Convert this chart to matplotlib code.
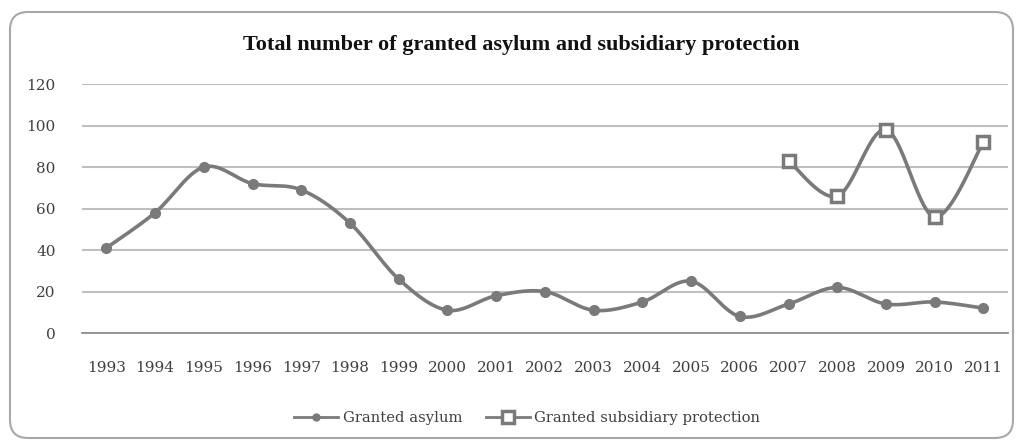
import matplotlib
matplotlib.use("Agg")
import matplotlib.pyplot as plt
import matplotlib.patches as patches
from matplotlib.transforms import IdentityTransform
import numpy as np

years = [str(y) for y in range(1993, 2012)]
asylum = [41, 58, 80, 72, 69, 53, 26, 11, 18, 20, 11, 15, 25, 8, 14, 22, 14, 15, 12]
subsidiary_years = ["2007", "2008", "2009", "2010", "2011"]
subsidiary = [83, 66, 98, 56, 92]

line_color = "#7a7a7a"
text_color = "#404040"


def smooth(xs, ys, n=30):
    # cubic bezier through the points, tangents from neighbours (spreadsheet style)
    xs = np.asarray(xs, float)
    ys = np.asarray(ys, float)
    px = np.concatenate([[xs[0]], xs, [xs[-1]]])
    py = np.concatenate([[ys[0]], ys, [ys[-1]]])
    out_x, out_y = [], []
    t = np.linspace(0, 1, n)
    for i in range(1, len(px) - 2):
        p0 = np.array([px[i], py[i]])
        p3 = np.array([px[i + 1], py[i + 1]])
        p1 = p0 + (p3 - np.array([px[i - 1], py[i - 1]])) / 6
        p2 = p3 - (np.array([px[i + 2], py[i + 2]]) - p0) / 6
        b = ((1 - t) ** 3)[:, None] * p0 + (3 * (1 - t) ** 2 * t)[:, None] * p1 \
            + (3 * (1 - t) * t ** 2)[:, None] * p2 + (t ** 3)[:, None] * p3
        out_x.extend(b[:, 0])
        out_y.extend(b[:, 1])
    return out_x, out_y


fig = plt.figure(figsize=(10.18, 4.40), dpi=100)
ax = fig.add_axes([0.0805, 0.243, 0.9095, 0.566])

x = np.arange(len(years))
xs = np.array([years.index(y) for y in subsidiary_years])

sx, sy = smooth(x, asylum)
ax.plot(sx, sy, color=line_color, lw=2.6, zorder=3)
ax.plot(x, asylum, ls="none", marker="o", ms=7, color=line_color, zorder=4)

tx, ty = smooth(xs, subsidiary)
ax.plot(tx, ty, color=line_color, lw=2.6, zorder=3)
ax.plot(xs, subsidiary, ls="none", marker="s", ms=8, mfc="white",
        mec=line_color, mew=2.5, zorder=4)

# legend handles
h1, = ax.plot([], [], color=line_color, lw=2, marker="o", ms=5)
h2, = ax.plot([], [], color=line_color, lw=2, marker="s", ms=8, mfc="white", mew=2.5)

ax.set_xlim(-0.5, len(years) - 0.5)
ax.set_ylim(0, 120)
ax.set_yticks(np.arange(0, 121, 20))
ax.set_xticks(x)
ax.set_xticklabels(years)
ax.yaxis.grid(True, color="#bfbfbf", lw=1.5)
ax.set_axisbelow(True)
for s in ["top", "right", "left"]:
    ax.spines[s].set_visible(False)
ax.spines["bottom"].set_color("#909090")
ax.spines["bottom"].set_linewidth(1.3)
ax.tick_params(length=0, labelsize=11, colors=text_color)
ax.tick_params(axis="x", pad=20)
ax.tick_params(axis="y", pad=19)
for lab in ax.get_xticklabels() + ax.get_yticklabels():
    lab.set_family("DejaVu Serif")

fig.text(0.512, 0.898, "Total number of granted asylum and subsidiary protection",
         ha="center", va="center", family="Liberation Serif", weight="bold",
         fontsize=16, color="#111111")

leg = fig.legend([h1, h2], ["Granted asylum", "Granted subsidiary protection"],
                 loc="center", bbox_to_anchor=(0.518, 0.05), ncol=2, frameon=False,
                 handlelength=3, columnspacing=1.6, handletextpad=0.3,
                 prop={"family": "DejaVu Serif", "size": 10.6})
for t in leg.get_texts():
    t.set_color(text_color)

# rounded outer border, drawn in pixels
border = patches.FancyBboxPatch((25, 17), 973, 396,
                                boxstyle="round,pad=15,rounding_size=18",
                                transform=IdentityTransform(), fill=False,
                                edgecolor="#a8a8a8", lw=1.5)
fig.patches.append(border)

fig.savefig("out.png", dpi=100)
